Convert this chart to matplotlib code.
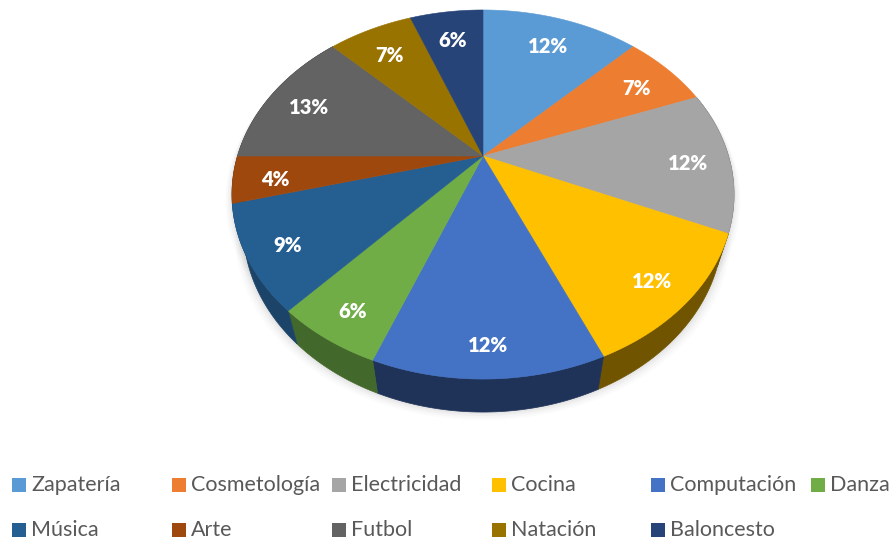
import matplotlib.pyplot as plt
import numpy as np

plt.rcParams['font.family'] = ['Lato', 'DejaVu Sans']

categories = ['Zapatería', 'Cosmetología', 'Electricidad', 'Cocina', 'Computación', 'Danza',
              'Música', 'Arte', 'Futbol', 'Natación', 'Baloncesto']
values = [12.4, 6.8, 12.4, 11.9, 12.4, 5.8, 9.2, 4.1, 12.6, 6.65, 5.75]
colors = ['#5B9BD5', '#ED7D31', '#A5A5A5', '#FFC000', '#4472C4', '#70AD47',
          '#255E91', '#9E480E', '#636363', '#997300', '#264478']
# how much darker the outer wall of each slice is
wall_shade = [0.5, 0.5, 0.5, 0.44, 0.45, 0.6, 0.72, 0.5, 0.5, 0.5, 0.5]

# perspective of the pie disc, all in pixels
CX, CY = 483, 156
A, B, K = 176.5, 245.5, 0.2087
DEPTH = 33
SHRINK = 0.955
LABEL_POS = 0.83
LABEL_DROP = 4


def project(theta):
    # theta in radians, clockwise from 12 o'clock
    u = np.sin(theta)
    v = np.cos(theta)
    w = 1 + K * v
    return CX + B * u / w, CY - A * v / w


def lower(x, y):
    return CX + SHRINK * (x - CX), y + DEPTH


def darken(col, f):
    r, g, b = plt.matplotlib.colors.to_rgb(col)
    return (r * f, g * f, b * f)


fig = plt.figure(figsize=(8.92, 5.41), dpi=100)
ax = fig.add_axes([0, 0, 1, 1])
ax.set_xlim(0, 892)
ax.set_ylim(541, 0)
ax.axis('off')

edges = np.cumsum([0] + values) / sum(values) * 2 * np.pi

# soft shadow under the pie
all_t = np.linspace(0, 2 * np.pi, 300)
sx, sy = lower(*project(all_t))
for grow, alpha in zip([8, 6, 4, 2], [0.03, 0.04, 0.05, 0.07]):
    ax.fill(CX + (sx - CX) * (1 + grow / 240), sy + grow, color='#808080', alpha=alpha, lw=0)
tx, ty = project(all_t)
for grow, alpha in zip([6, 4, 2], [0.04, 0.05, 0.07]):
    ax.fill(CX + (tx - CX) * (1 + grow / 240), ty + grow, color='#808080', alpha=alpha, lw=0)

# outer wall
for i in range(len(values)):
    t = np.linspace(edges[i], edges[i + 1], 80)
    x, y = project(t)
    x2, y2 = lower(x, y)
    px = np.concatenate([x, x2[::-1]])
    py = np.concatenate([y, y2[::-1]])
    if np.cos(t).min() < 0.1:
        ax.fill(px, py, color=darken(colors[i], wall_shade[i]), lw=0.5)

# top face
for i in range(len(values)):
    t = np.linspace(edges[i], edges[i + 1], 80)
    x, y = project(t)
    ax.fill(np.r_[CX, x], np.r_[CY, y], color=colors[i], lw=0.4)

# percent labels
for i in range(len(values)):
    mid = (edges[i] + edges[i + 1]) / 2
    x, y = project(mid)
    ax.text(CX + LABEL_POS * (x - CX), CY + LABEL_POS * (y - CY) + LABEL_DROP, '%.0f%%' % values[i],
            color='white', fontsize=14.5, fontweight=800, ha='center', va='center')

# legend, two rows of six columns
col_x = [12, 172, 332, 492, 651, 811]
row_y = [485, 530]
for i, name in enumerate(categories):
    x0 = col_x[i % 6]
    y0 = row_y[i // 6]
    ax.add_patch(plt.Rectangle((x0, y0 - 7), 14, 14, color=colors[i], lw=0))
    ax.text(x0 + 19, y0, name, color='#595959', fontsize=15.5, ha='left', va='center')

fig.savefig('out.png', dpi=100)
